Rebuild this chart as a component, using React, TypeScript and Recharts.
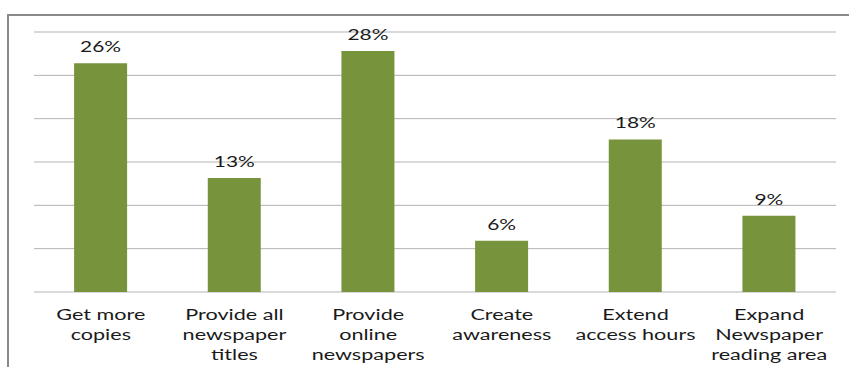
import React from "react";
import { BarChart, Bar, XAxis, YAxis, CartesianGrid, LabelList } from "recharts";

const categories = [
  "Get more copies",
  "Provide all newspaper titles",
  "Provide online newspapers",
  "Create awareness",
  "Extend access hours",
  "Expand Newspaper reading area",
];
const tickLines = [
  ["Get more", "copies"],
  ["Provide all", "newspaper", "titles"],
  ["Provide", "online", "newspapers"],
  ["Create", "awareness"],
  ["Extend", "access hours"],
  ["Expand", "Newspaper", "reading area"],
];
const values = [26.4, 13.15, 27.8, 5.9, 17.6, 8.8];
const valueLabels = ["26%", "13%", "28%", "6%", "18%", "9%"];
const yTicks = [0, 5, 10, 15, 20, 25, 30];
const boundaryTicks = [0, 1, 2, 3, 4, 5, 6];

const data = categories.map((c, i) => ({ name: c, value: values[i], label: valueLabels[i] }));

const FONT = "Lato, 'Open Sans', sans-serif";
const STRETCH = 1.35;

const CatTick = (props: any) => {
  const { x, y, index } = props;
  const lines = tickLines[index] || [];
  return (
    <text
      transform={`translate(${x},${y + 28}) scale(${STRETCH},1)`}
      x={0}
      y={0}
      textAnchor="middle"
      fontFamily={FONT}
      fontSize={16}
      fill="#1a1a1a"
    >
      {lines.map((l, i) => (
        <tspan key={i} x={0} dy={i === 0 ? 0 : 20}>
          {l}
        </tspan>
      ))}
    </text>
  );
};

const ValueLabel = (props: any) => {
  const { x, y, width, value } = props;
  const cx = Number(x) + Number(width) / 2;
  const by = Number(y) - 11;
  return (
    <text
      transform={`translate(${cx},${by}) scale(${STRETCH},1)`}
      x={0}
      y={0}
      textAnchor="middle"
      fontFamily={FONT}
      fontSize={15.5}
      fill="#1a1a1a"
    >
      {value}
    </text>
  );
};

export default function App() {
  return (
    <div style={{ position: "fixed", left: 0, top: 0, width: 849, height: 367, overflow: "hidden", background: "#fff" }}>
      <div
        style={{
          position: "absolute",
          left: 7,
          top: 14,
          width: 900,
          height: 400,
          borderLeft: "2px solid #8a8a8a",
          borderTop: "2px solid #8a8a8a",
        }}
      />
      <div style={{ position: "absolute", left: 0, top: 0 }}>
        <BarChart
          width={849}
          height={367}
          data={data}
          margin={{ top: 32, right: 13, left: 34, bottom: 0 }}
          barCategoryGap="30%"
        >
          <CartesianGrid horizontal vertical={false} stroke="#b3b3b3" strokeWidth={1} />
          <YAxis hide domain={[0, 30]} ticks={yTicks} type="number" />
          <XAxis
            xAxisId="grid"
            type="number"
            domain={[0, 6]}
            ticks={boundaryTicks}
            tick={false}
            tickSize={6}
            height={0}
            stroke="#8c8c8c"
            axisLine={{ stroke: "#8c8c8c" }}
            tickLine={{ stroke: "#8c8c8c" }}
          />
          <XAxis
            dataKey="name"
            height={75}
            axisLine={false}
            tickLine={false}
            tickSize={0}
            tickMargin={0}
            interval={0}
            tick={<CatTick />}
          />
          <Bar dataKey="value" fill="#77933C" isAnimationActive={false}>
            <LabelList dataKey="label" content={<ValueLabel />} />
          </Bar>
        </BarChart>
      </div>
    </div>
  );
}
